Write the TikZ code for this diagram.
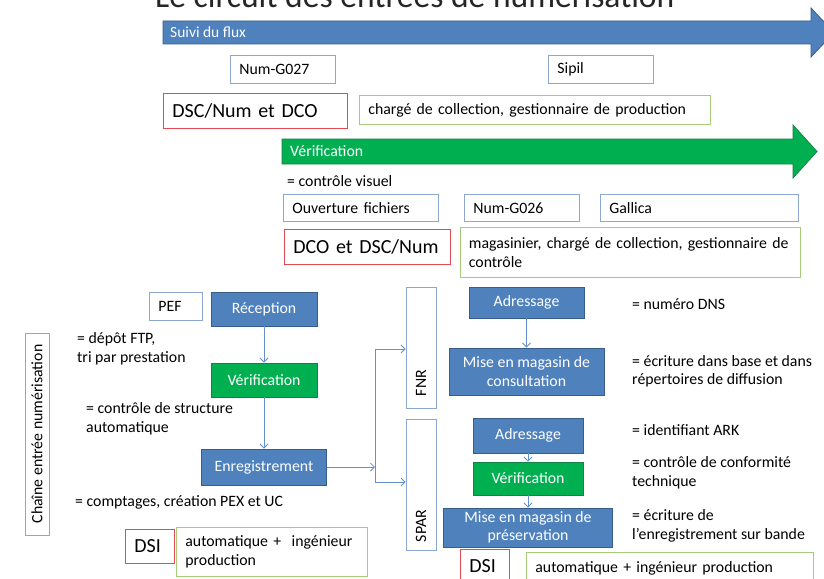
\documentclass[tikz,border=0pt]{standalone}
\usepackage{fontspec}
\setmainfont{Carlito}
\usetikzlibrary{arrows.meta}

\definecolor{flowblue}{RGB}{79,129,189}
\definecolor{flowblueline}{RGB}{56,93,138}
\definecolor{flowgreen}{RGB}{0,176,80}
\definecolor{flowgreenline}{RGB}{20,130,70}
\definecolor{rolered}{RGB}{228,74,82}
\definecolor{rolegreen}{RGB}{166,204,122}
\definecolor{toolblue}{RGB}{140,168,210}
\definecolor{linkblue}{RGB}{100,145,205}

\begin{document}
\begin{tikzpicture}[x=1pt,y=1pt,yscale=-1,
	every node/.style={font=\fontsize{15.8}{18.5}\selectfont, inner sep=0pt},
	stepblue/.style={draw=flowblueline, fill=flowblue, text=white, align=center, line width=0.9pt},
	stepgreen/.style={draw=flowgreenline, fill=flowgreen, text=white, align=center, line width=0.9pt},
	toolbox/.style={draw=toolblue, fill=white, anchor=north west, align=left, inner xsep=9pt, line width=0.8pt},
	rolebox/.style={draw=rolered, anchor=north west, align=left, inner xsep=9pt, line width=0.8pt, font=\fontsize{20}{24}\selectfont},
	taskbox/.style={draw=rolegreen, anchor=north west, align=left, inner xsep=9pt, line width=0.8pt},
	sidebox/.style={draw=toolblue, rotate=90, align=left, line width=0.8pt},
	note/.style={anchor=west, align=left},
	link/.style={draw=linkblue, line width=0.8pt, -{Straight Barb[length=4pt,width=8pt]}}]
	\useasboundingbox (0,0) rectangle (824,578);
	\fill[white] (0,0) rectangle (824,578);
	\clip (0,0) rectangle (824,578);
	
	% Text Node
	\node[anchor=base west, font=\fontsize{33.6}{40}\selectfont, text=black!85] (title) at (155,8) {Le circuit des entrées de numérisation};
	
	%Shape: Right Arrow
	\filldraw[fill=flowblue, draw=flowblueline, line width=0.8pt] (163,21) -- (811,21) -- (811,8) -- (834,32.5) -- (811,57) -- (811,44) -- (163,44) -- cycle;
	\node[note, text=white, font=\fontsize{15.5}{18}\selectfont] (suivi) at (170,32.5) {Suivi du flux};
	%Shape: Right Arrow
	\filldraw[fill=flowgreen, draw=flowgreenline, line width=0.8pt] (282,139) -- (793,139) -- (793,125) -- (817,151.5) -- (793,178) -- (793,164) -- (282,164) -- cycle;
	\node[note, text=white] (verifarrow) at (290,151.5) {Vérification};
	
	% Text Node
	\node[toolbox, text width=87pt, minimum height=28pt] (numgzs) at (230,55) {Num-G027};
	\node[toolbox, text width=87pt, minimum height=28pt] (sipil) at (548,55) {Sipil};
	\node[rolebox, text width=166pt, minimum height=35pt] (dscnum) at (163,93) {DSC/Num et DCO};
	\node[taskbox, text width=333pt, minimum height=29pt] (chargeprod) at (359,95) {chargé de collection, gestionnaire de production};
	
	\node[note] (visuel) at (287,181) {= contrôle visuel};
	\node[toolbox, text width=137pt, minimum height=27pt] (ouverture) at (283,194) {Ouverture fichiers};
	\node[toolbox, text width=97pt, minimum height=27pt] (numgzsix) at (464,194) {Num-G026};
	\node[toolbox, text width=180pt, minimum height=27pt] (gallica) at (600,194) {Gallica};
	\node[rolebox, text width=148pt, minimum height=35pt] (dcodsc) at (284,229) {DCO et DSC/Num};
	\node[taskbox, text width=323pt, inner xsep=8.5pt, minimum height=50pt] (magasinier) at (460,227) {magasinier, chargé de collection, gestionnaire de\\contrôle};
	
	%Shape: Chaine
	\node[sidebox, minimum width=202pt, minimum height=24pt, align=center] (chaine) at (37,434) {Chaîne entrée numérisation};
	
	% Left column
	\node[toolbox, text width=35pt, minimum height=28pt] (pef) at (149,292) {PEF};
	\node[stepblue, minimum width=106pt, minimum height=34pt] (reception) at (264,309) {Réception};
	\node[stepgreen, minimum width=106pt, minimum height=34pt] (verifa) at (264,380) {Vérification};
	\node[stepblue, minimum width=125pt, minimum height=36pt] (enreg) at (264,467) {Enregistrement};
	\node[note] (depot) at (77,349) {= dépôt FTP,\\tri par prestation};
	\node[note] (structure) at (86,419) {= contrôle de structure\\automatique};
	\node[note] (comptages) at (75,502) {= comptages, création PEX et UC};
	\node[rolebox, text width=31pt, minimum height=34pt] (dsia) at (125,529) {DSI};
	\node[taskbox, text width=173pt, minimum height=49pt] (autoa) at (176,527) {automatique + \ ingénieur\\production};
	
	% Split
	\coordinate (split) at (375,467);
	\coordinate (splittop) at (375,349);
	\coordinate (splitbot) at (375,482);
	\node[sidebox, text width=97pt, minimum height=30pt, inner xsep=12pt] (fnr) at (421,347.5) {FNR};
	\node[sidebox, text width=115pt, minimum height=30pt, inner xsep=8pt] (spar) at (421,484.5) {SPAR};
	
	% Right column
	\node[stepblue, minimum width=115pt, minimum height=31pt] (adra) at (526.5,302.5) {Adressage};
	\node[stepblue, minimum width=155pt, minimum height=47pt] (mconsult) at (526.5,371.5) {Mise en magasin de\\consultation};
	\node[stepblue, minimum width=110pt, minimum height=35pt] (adrb) at (528,435.5) {Adressage};
	\node[stepgreen, minimum width=110pt, minimum height=33pt] (verifb) at (528,478.5) {Vérification};
	\node[stepblue, minimum width=169pt, minimum height=39pt] (mpreserv) at (528,527.5) {Mise en magasin de\\préservation};
	\node[rolebox, text width=31pt, minimum height=34pt] (dsib) at (460,549) {DSI};
	\node[taskbox, text width=269pt, minimum height=32pt] (autob) at (526,552) {automatique + ingénieur production};
	
	\node[note] (dns) at (632,304) {= numéro DNS};
	\node[note] (ecriture) at (632,371.5) {= écriture dans base et dans\\répertoires de diffusion};
	\node[note] (ark) at (632,430) {= identifiant ARK};
	\node[note] (conformite) at (632,473) {= contrôle de conformité\\technique};
	\node[note] (bande) at (632,526) {= écriture de\\l’enregistrement sur bande};
	
	%Arrows
	\draw[link] (reception) -- (verifa);
	\draw[link] (verifa) -- (enreg);
	\draw[link] (enreg.east) -- (split);
	\draw[link, -] (splittop) -- (splitbot);
	\draw[link] (splittop) -- (fnr.north |- splittop);
	\draw[link] (splitbot) -- (spar.north |- splitbot);
	\draw[link] (adra) -- (mconsult);
	\draw[link] (adrb) -- (verifb);
	\draw[link] (verifb) -- (mpreserv);
	
\end{tikzpicture}
\end{document}
